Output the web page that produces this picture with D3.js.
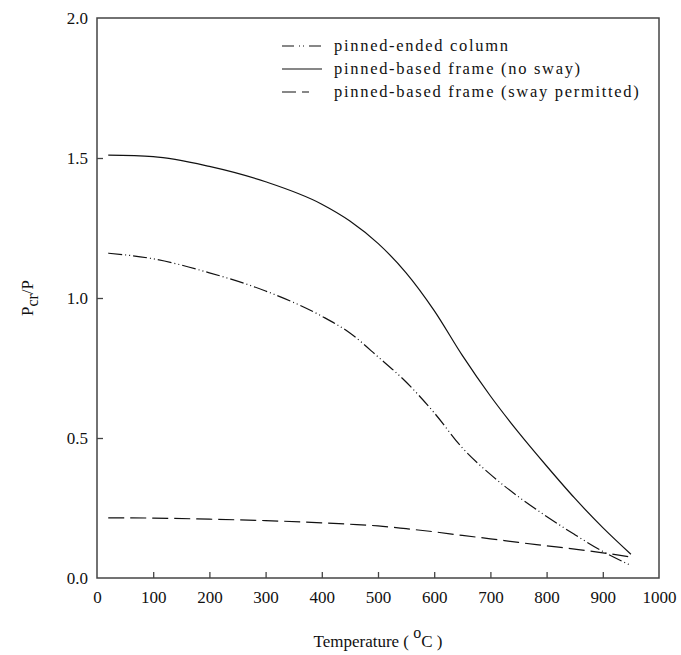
<!DOCTYPE html>
<html><head><meta charset="utf-8">
<script src="https://cdn.jsdelivr.net/npm/d3@7"></script>
<style>body{margin:0;background:#fff}svg{display:block}text{font-family:"Liberation Serif","Times New Roman",serif;fill:#111}</style>
</head><body>
<script>
const temps = [20,100,200,300,400,450,500,550,600,650,700,750,800,850,900,950];
const noSway = [1.51,1.505,1.47,1.415,1.335,1.275,1.195,1.09,0.955,0.795,0.65,0.52,0.40,0.285,0.18,0.085];
const column = [1.16,1.14,1.09,1.025,0.935,0.875,0.79,0.70,0.59,0.465,0.37,0.29,0.22,0.155,0.095,0.045];
const swayPermitted = [0.215,0.214,0.21,0.205,0.197,0.192,0.186,0.176,0.165,0.152,0.14,0.127,0.115,0.103,0.09,0.075];
const xTicks = [0,100,200,300,400,500,600,700,800,900,1000];
const yTicks = [0,0.5,1.0,1.5,2.0];
const legendLabels = ["pinned-ended column","pinned-based frame (no sway)","pinned-based frame (sway permitted)"];

const W=681,H=655, m={l:97,r:22,t:18,b:77};
const svg=d3.select("body").append("svg").attr("width",W).attr("height",H);
const x=d3.scaleLinear().domain([0,1000]).range([m.l,W-m.r]);
const y=d3.scaleLinear().domain([0,2]).range([H-m.b,m.t]);

svg.append("rect").attr("x",m.l).attr("y",m.t).attr("width",W-m.r-m.l).attr("height",H-m.b-m.t)
  .attr("fill","none").attr("stroke","#444").attr("stroke-width",1.5);

const xa=svg.append("g").attr("transform",`translate(0,${H-m.b})`)
  .call(d3.axisBottom(x).tickValues(xTicks).tickSizeInner(-6).tickSizeOuter(0).tickPadding(13).tickFormat(d3.format("d")));
const ya=svg.append("g").attr("transform",`translate(${m.l},0)`)
  .call(d3.axisLeft(y).tickValues(yTicks).tickSizeInner(-6).tickSizeOuter(0).tickPadding(9).tickFormat(d3.format(".1f")));
[xa,ya].forEach(a=>{a.select(".domain").remove();a.selectAll("line").attr("stroke","#444").attr("stroke-width",1.3);
  a.selectAll("text").attr("font-size",17).style("font-family","Liberation Serif").attr("fill","#111");});
xa.selectAll(".tick").filter(d=>d===0||d===1000).select("line").remove();
ya.selectAll(".tick").filter(d=>d===0||d===2).select("line").remove();

const line=d3.line().x(d=>x(d[0])).y(d=>y(d[1])).curve(d3.curveMonotoneX);
const series=[
  {vals:column,dash:"14,3,1,3,1,3"},
  {vals:noSway,dash:null},
  {vals:swayPermitted,dash:"16,6"}
];
series.forEach(s=>{
  const p=svg.append("path").datum(temps.map((t,i)=>[t,s.vals[i]])).attr("d",line)
    .attr("fill","none").attr("stroke","#111").attr("stroke-width",1.2);
  if(s.dash)p.attr("stroke-dasharray",s.dash);
});

// legend
const legDash=["12,5,1,3,1,5,12","40","14,6,7"];
legendLabels.forEach((lab,i)=>{
  const ly=46+i*23;
  const l=svg.append("line").attr("x1",282).attr("x2",322).attr("y1",ly).attr("y2",ly)
    .attr("stroke","#111").attr("stroke-width",1.2);
  if(i!==1)l.attr("stroke-dasharray",legDash[i]);
  svg.append("text").attr("x",334).attr("y",ly+5).attr("font-size",16.5).style("letter-spacing","1.7px").text(lab);
});

// axis titles
const xt=svg.append("text").attr("x",378).attr("y",647).attr("text-anchor","middle").attr("font-size",17);
xt.append("tspan").text("Temperature ( ");
xt.append("tspan").attr("dy",-9).attr("font-size",16).text("o");
xt.append("tspan").attr("dy",9).text("C )");
const yt=svg.append("text").attr("transform",`translate(33,${y(1)}) rotate(-90)`).attr("text-anchor","middle").attr("font-size",17);
yt.append("tspan").text("P");
yt.append("tspan").attr("dy",5).attr("font-size",16).text("cr");
yt.append("tspan").attr("dy",-5).text("/P");
</script>
</body></html>
